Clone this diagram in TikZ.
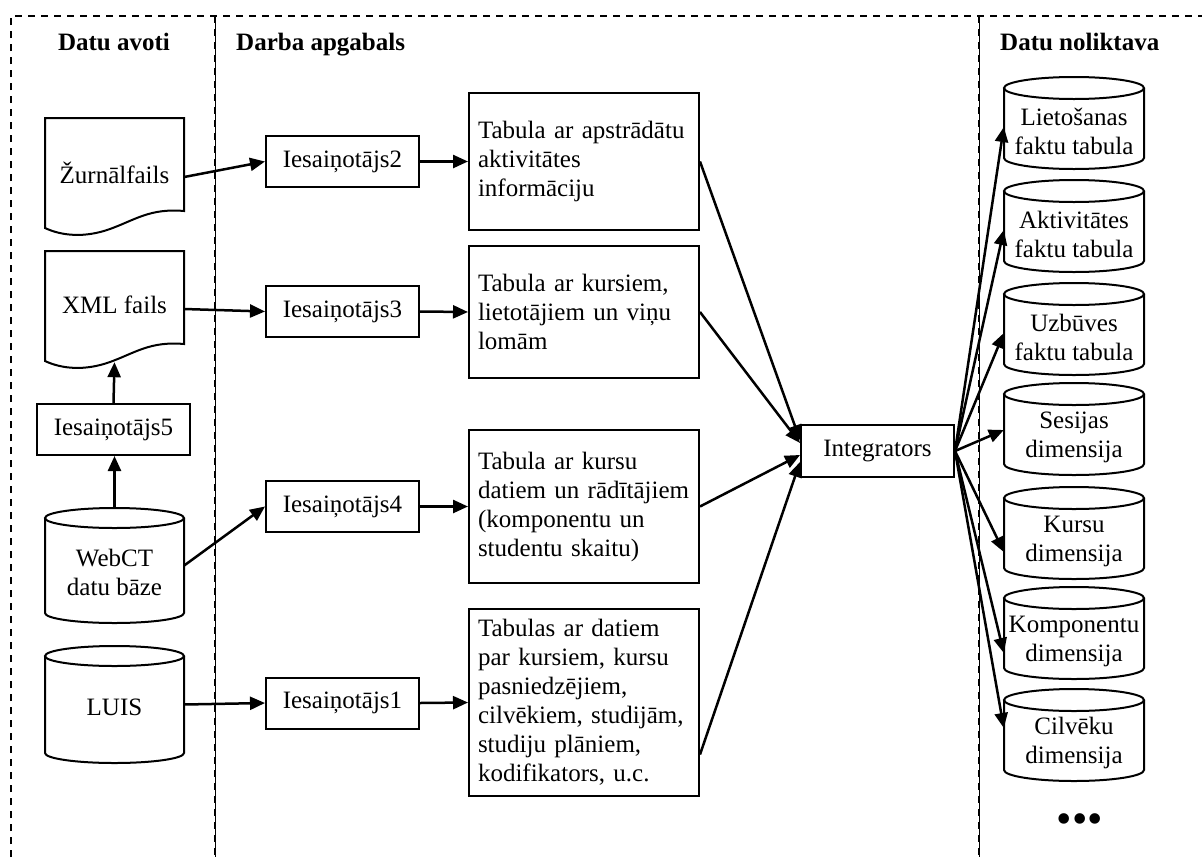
\documentclass[tikz,border=0pt]{standalone}
\usepackage{fontspec}
\setmainfont{Liberation Serif}
\usetikzlibrary{arrows.meta,calc}
\newcommand\rcyl[4]{%
  \node[minimum width=140pt,minimum height=92pt,inner sep=0pt] (#1) at (1074,#2+46) {};
  \draw[shapeline] (1074,#2+11) ellipse[x radius=70,y radius=11];
  \draw[shapeline] (1004,#2+11) -- (1004,#2+81) arc[start angle=180,end angle=0,x radius=70,y radius=11] -- (1144,#2+11);
  \node[align=center] (#1t) at (1074,#2+54) {#3\\#4};
}
\begin{document}
\begin{tikzpicture}[x=1pt,y=-1pt,
  every node/.style={font=\fontsize{25}{29}\selectfont},
  shapeline/.style={line width=2pt},
  box/.style={draw,line width=2pt,inner sep=0pt},
  tbox/.style={box,text width=212pt,align=left,inner xsep=9pt,minimum width=230pt},
  ibox/.style={box,minimum width=153pt,minimum height=51pt},
  arr/.style={line width=2.5pt,-{Triangle[length=15pt,width=13pt]}},
  frame/.style={line width=1.8pt,dash pattern=on 7pt off 6pt},
  hdr/.style={font=\fontsize{25}{29}\selectfont\bfseries,inner sep=0pt}]
\useasboundingbox (0,0) rectangle (1202,857);

% frame and dividers
\draw[frame] (11,857) -- (11,16) -- (1202,16);
\draw[line width=0.7pt] (215,16) -- (215,857);
\draw[frame] (215,16) -- (215,857);
\draw[line width=0.7pt] (979,16) -- (979,857);
\draw[frame] (979,16) -- (979,857);

% headers
\node[hdr,anchor=base] (h1) at (114,50) {Datu avoti};
\node[hdr,anchor=base west] (h2) at (236,50) {Darba apgabals};
\node[hdr,anchor=base west] (h3) at (1000,50) {Datu noliktava};

% documents
\node[minimum width=139pt,minimum height=110pt,inner sep=0pt] (zur) at (114.5,173) {Žurnālfails};
\draw[shapeline] (45,118) -- (184,118) -- (184,211) .. controls (150,208) and (135,220) .. (110,229) .. controls (85,238) and (62,236) .. (45,228) -- cycle;
\node[minimum width=139pt,minimum height=108pt,inner sep=0pt] (xml) at (114.5,305) {XML fails};
\draw[shapeline] (45,251) -- (184,251) -- (184,344) .. controls (150,341) and (135,353) .. (110,362) .. controls (85,371) and (62,369) .. (45,361) -- cycle;

\node[ibox] (i5) at (113.5,429.5) {Iesaiņotājs5};

% left cylinders
\node[minimum width=139pt,minimum height=115pt,inner sep=0pt] (web) at (114.5,565.5) {};
\draw[shapeline] (114.5,518) ellipse[x radius=69.5,y radius=10];
\draw[shapeline] (45,518) -- (45,613) arc[start angle=180,end angle=0,x radius=69.5,y radius=10] -- (184,518);
\node[align=center] (webt) at (114.5,572) {WebCT\\datu bāze};

\node[minimum width=139pt,minimum height=117pt,inner sep=0pt] (luis) at (114.5,704.5) {};
\draw[shapeline] (114.5,656) ellipse[x radius=69.5,y radius=10];
\draw[shapeline] (45,656) -- (45,753) arc[start angle=180,end angle=0,x radius=69.5,y radius=10] -- (184,656);
\node (luist) at (114.5,707) {LUIS};

% wrappers
\node[ibox] (i2) at (342.5,161.5) {Iesaiņotājs2};
\node[ibox] (i3) at (342.5,311.5) {Iesaiņotājs3};
\node[ibox] (i4) at (342.5,506.5) {Iesaiņotājs4};
\node[ibox] (i1) at (342.5,703) {Iesaiņotājs1};

% tables
\node[tbox,minimum height=137pt] (t1) at (584,161.5) {Tabula ar apstrādātu\\aktivitātes\\informāciju};
\node[tbox,minimum height=132pt] (t2) at (584,312) {Tabula ar kursiem,\\lietotājiem un viņu\\lomām};
\node[tbox,minimum height=153pt] (t3) at (584,506.5) {Tabula ar kursu\\datiem un rādītājiem\\(komponentu un\\studentu skaitu)};
\node[tbox,minimum height=187pt] (t4) at (584,702.5) {Tabulas ar datiem\\par kursiem, kursu\\pasniedzējiem,\\cilvēkiem, studijām,\\studiju plāniem,\\kodifikators, u.c.};

\node[box,minimum width=153pt,minimum height=52pt] (int) at (877.5,451) {Integrators};

% warehouse
\rcyl{c1}{77}{Lietošanas}{faktu tabula}
\rcyl{c2}{180}{Aktivitātes}{faktu tabula}
\rcyl{c3}{283}{Uzbūves}{faktu tabula}
\rcyl{c4}{383}{Sesijas}{dimensija}
\rcyl{c5}{487}{Kursu}{dimensija}
\rcyl{c6}{587}{Komponentu}{dimensija}
\rcyl{c7}{689}{Cilvēku}{dimensija}
\node[font=\fontsize{44}{46}\selectfont] (dots) at (1080,824) {•••};

% connectors
\draw[arr] ($(zur.east)+(0,4)$) -- (i2.west);
\draw[arr] ($(xml.east)+(0,4)$) -- (i3.west);
\draw[arr] (web.east) -- (i4.west);
\draw[arr] (luis.east) -- (i1.west);
\draw[arr] (web.north) -- (web.north |- i5.south);
\draw[arr] (i5.north) -- ($(xml.south)+(0,3)$);
\draw[arr] (i2.east) -- (t1.west);
\draw[arr] (i3.east) -- (t2.west);
\draw[arr] (i4.east) -- (t3.west);
\draw[arr] (i1.east) -- (t4.west);
\draw[arr] (t1.east) -- ($(int.west)+(0,-11)$);
\draw[arr] (t2.east) -- ($(int.west)+(0,-8)$);
\draw[arr] (t3.east) -- ($(int.west)+(0,4)$);
\draw[arr] ($(t4.east)+(0,52)$) -- ($(int.west)+(0,11)$);
\draw[arr] (int.east) -- ($(c1.west)+(0,4)$);
\draw[arr] (int.east) -- ($(c2.west)+(0,4)$);
\draw[arr] (int.east) -- ($(c3.west)+(0,4)$);
\draw[arr] (int.east) -- ($(c4.west)+(0,1)$);
\draw[arr] (int.east) -- ($(c5.west)+(0,19)$);
\draw[arr] (int.east) -- ($(c6.west)+(0,20)$);
\draw[arr] (int.east) -- ($(c7.west)+(0,-7)$);
\end{tikzpicture}
\end{document}
